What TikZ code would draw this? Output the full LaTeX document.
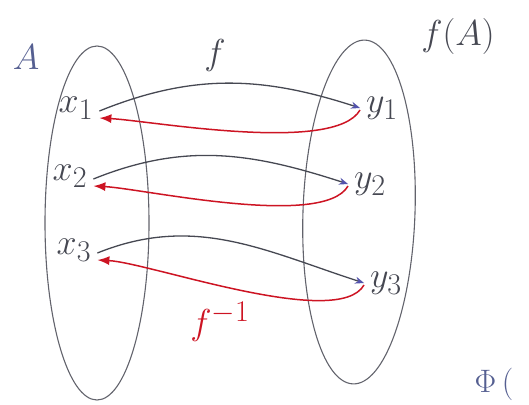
\documentclass[tikz,border=0pt]{standalone}
\usetikzlibrary{arrows.meta}
\definecolor{inkgray}{RGB}{70,72,82}
\definecolor{inkred}{RGB}{205,20,35}
\definecolor{inkblue}{RGB}{85,95,145}
\tikzset{
	setline/.style={draw=inkgray!85, line width=1.1pt},
	elem/.style={inner sep=4pt, text=inkgray, font=\Huge, transform shape, scale=1.45},
	fmap/.style={draw=inkgray, line width=1.3pt, -{Stealth[length=9pt, width=7pt, color=blue!35!gray]}},
	finv/.style={draw=inkred, line width=1.5pt, -{Latex[length=12pt, width=9pt]}},
}
\begin{document}
\begin{tikzpicture}[x=1pt,y=1pt]
	\useasboundingbox (0,0) rectangle (529,404);
	
	% --- Hai tập hợp A và f(A) ---
	\draw[setline] (97,181) ellipse [x radius=52, y radius=177];
	\draw[setline, rotate around={-2:(359,192)}] (359,192) ellipse [x radius=56, y radius=172];
	\node[elem, text=inkblue] (lblA) at (26,347) {$A$};
	\node[elem] (lblfA) at (458,368) {$f(A)$};
	
	% --- Các phần tử ---
	\node[elem] (x1) at (76,296) {$x_1$};
	\node[elem] (x2) at (70,228) {$x_2$};
	\node[elem] (x3) at (74,154) {$x_3$};
	\node[elem] (y1) at (382,296) {$y_1$};
	\node[elem] (y2) at (370,220) {$y_2$};
	\node[elem] (y3) at (386,121) {$y_3$};
	
	% --- Ánh xạ f và f^{-1} ---
	\foreach \i in {1,2,3} {
		\draw[fmap] ([yshift=-3pt]x\i.east) to[out=22, in=162] (y\i.west); % f
		\draw[finv] ([yshift=-2pt]y\i.west) to[out=-120, in=-3, looseness=0.5] ([yshift=-10pt]x\i.east); % f^{-1}
	}
	\node[elem] (lblf) at (215,349) {$f$};
	\node[elem, text=inkred] (lblfinv) at (220,82) {$f^{-1}$};
	
	\node[elem, text=inkblue, scale=0.9] (lblphi) at (494,20) {$\Phi$\,(};
\end{tikzpicture}
\end{document}
